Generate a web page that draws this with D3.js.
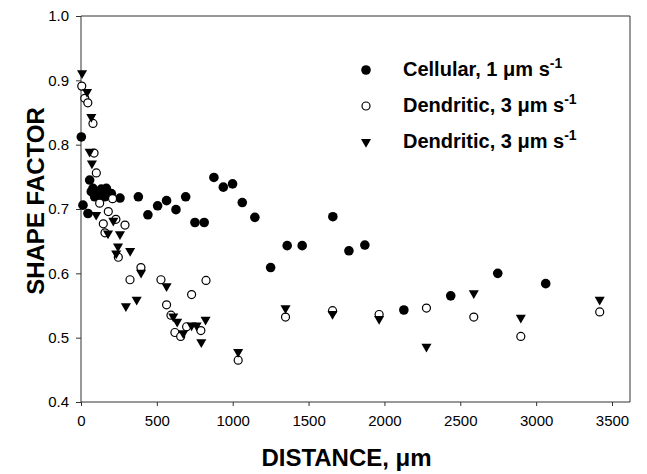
<!DOCTYPE html>
<html>
<head>
<meta charset="utf-8">
<script src="https://cdn.jsdelivr.net/npm/d3@7"></script>
<style>
  body { margin: 0; background: #fff; }
  svg { display: block; }
  text { font-family: "Liberation Sans", Arial, Helvetica, sans-serif; fill: #000; }
</style>
</head>
<body>
<svg id="chart" width="647" height="474"></svg>
<script>
// Shape factor vs. distance from the chill surface, three growth series
const xTicks = [0, 500, 1000, 1500, 2000, 2500, 3000, 3500];
const yTicks = [0.4, 0.5, 0.6, 0.7, 0.8, 0.9, 1.0];

const cellularDist = [2, 13, 46, 57, 79, 68, 101, 134, 167, 200, 90, 123, 156, 257, 378, 441, 505, 564, 626, 690,
  751, 812, 876, 938, 999, 1063, 1146, 1250, 1359, 1458, 1660, 1766, 1871, 2128, 2437, 2747, 3063];
const cellularShape = [0.812, 0.706, 0.693, 0.745, 0.732, 0.727, 0.724, 0.731, 0.732, 0.724, 0.719, 0.722, 0.719, 0.717, 0.719, 0.691, 0.705, 0.713, 0.699, 0.719,
  0.679, 0.679, 0.749, 0.734, 0.739, 0.710, 0.687, 0.609, 0.643, 0.643, 0.688, 0.635, 0.644, 0.543, 0.565, 0.600, 0.584];

const dendOpenDist = [5, 25, 45, 79, 86, 101, 208, 123, 180, 230, 147, 290, 158, 246, 395, 323, 527, 824, 729, 564,
  593, 619, 657, 696, 790, 1036, 1348, 1658, 1965, 2277, 2589, 2899, 3419];
const dendOpenShape = [0.891, 0.872, 0.865, 0.833, 0.787, 0.756, 0.716, 0.709, 0.696, 0.684, 0.677, 0.675, 0.663, 0.625, 0.609, 0.590, 0.590, 0.589, 0.567, 0.551,
  0.535, 0.508, 0.502, 0.517, 0.511, 0.465, 0.532, 0.542, 0.536, 0.546, 0.532, 0.502, 0.540];

const dendTriDist = [7, 40, 68, 57, 72, 100, 213, 178, 257, 244, 324, 232, 396, 296, 367, 564, 608, 634, 674, 729,
  762, 821, 793, 1036, 1348, 1658, 1965, 2277, 2589, 2899, 3419];
const dendTriShape = [0.911, 0.882, 0.843, 0.789, 0.771, 0.691, 0.682, 0.662, 0.661, 0.642, 0.635, 0.631, 0.601, 0.549, 0.559, 0.580, 0.533, 0.525, 0.507, 0.519,
  0.519, 0.528, 0.493, 0.478, 0.546, 0.537, 0.529, 0.486, 0.569, 0.531, 0.559];

const legendLabels = ["Cellular, 1 \u03bcm s", "Dendritic, 3 \u03bcm s", "Dendritic, 3 \u03bcm s"];

const svg = d3.select("#chart");

const plotLeft = 81, plotRight = 612, frameRight = 630, plotTop = 16, plotBottom = 402;
const x = d3.scaleLinear().domain([0, 3500]).range([plotLeft, plotRight]);
const y = d3.scaleLinear().domain([0.4, 1.0]).range([plotBottom, plotTop]);

// frame
svg.append("path")
  .attr("d", `M${plotLeft},${plotTop}H${frameRight}V${plotBottom}H${plotLeft}Z`)
  .attr("fill", "none").attr("stroke", "#333").attr("stroke-width", 1);

// axes
const xAxis = svg.append("g").attr("transform", `translate(0,${plotBottom})`)
  .call(d3.axisBottom(x).tickValues(xTicks).tickSize(4).tickPadding(9).tickFormat(d3.format("d")));
const yAxis = svg.append("g").attr("transform", `translate(${plotLeft},0)`)
  .call(d3.axisLeft(y).tickValues(yTicks).tickSize(5).tickPadding(7).tickFormat(d3.format(".1f")));
[xAxis, yAxis].forEach(g => {
  g.select(".domain").remove();
  g.selectAll(".tick line").attr("stroke", "#333");
  g.selectAll(".tick text").style("font-size", "15px").attr("fill", "#000");
});

// axis titles
svg.append("text").attr("x", (plotLeft + plotRight) / 2).attr("y", 466)
  .attr("text-anchor", "middle").style("font-size", "24px").style("font-weight", "bold")
  .text("DISTANCE, \u03bcm");
svg.append("text").attr("transform", `translate(44,${(plotTop + plotBottom) / 2 - 8}) rotate(-90)`)
  .attr("text-anchor", "middle").style("font-size", "24px").style("font-weight", "bold")
  .text("SHAPE FACTOR");

// markers
const tri = d3.symbol().type(d3.symbolTriangle).size(44);
const marks = svg.append("g");

marks.selectAll("circle.cell").data(d3.zip(cellularDist, cellularShape)).join("circle")
  .attr("class", "cell").attr("cx", d => x(d[0])).attr("cy", d => y(d[1])).attr("r", 4.8)
  .attr("fill", "#000");

marks.selectAll("circle.open").data(d3.zip(dendOpenDist, dendOpenShape)).join("circle")
  .attr("class", "open").attr("cx", d => x(d[0])).attr("cy", d => y(d[1])).attr("r", 4.0)
  .attr("fill", "#fff").attr("stroke", "#000").attr("stroke-width", 1.2);

marks.selectAll("path.tri").data(d3.zip(dendTriDist, dendTriShape)).join("path")
  .attr("class", "tri").attr("d", tri)
  .attr("transform", d => `translate(${x(d[0])},${y(d[1])}) rotate(180)`)
  .attr("fill", "#000");

// legend
const legY = [70, 106, 142];
const lg = svg.append("g");
lg.append("circle").attr("cx", 366).attr("cy", legY[0]).attr("r", 4.8).attr("fill", "#000");
lg.append("circle").attr("cx", 366).attr("cy", legY[1]).attr("r", 4.0)
  .attr("fill", "#fff").attr("stroke", "#000").attr("stroke-width", 1.2);
lg.append("path").attr("d", tri).attr("transform", `translate(366,${legY[2]}) rotate(180)`).attr("fill", "#000");

legendLabels.forEach((lab, i) => {
  const t = lg.append("text").attr("x", 403).attr("y", legY[i] + 6)
    .style("font-size", "20px").style("font-weight", "bold");
  t.append("tspan").text(lab);
  t.append("tspan").attr("dy", -8).style("font-size", "14px").text("-1");
});
</script>
</body>
</html>
